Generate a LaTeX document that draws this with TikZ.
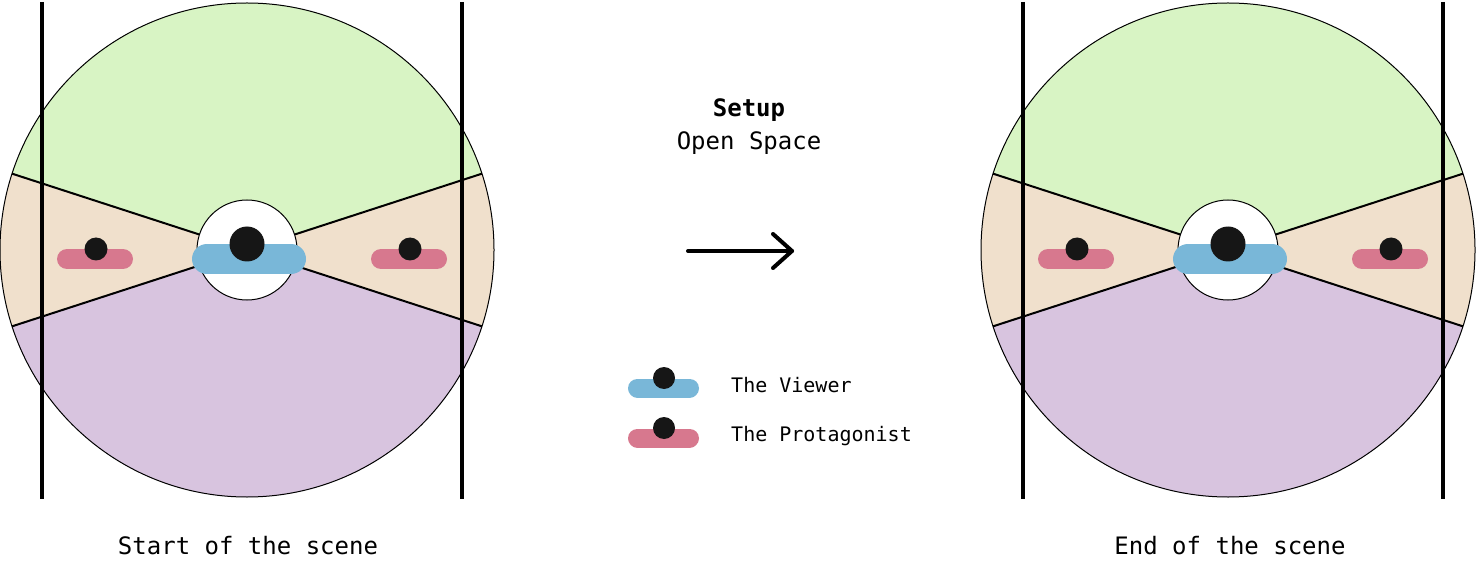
\documentclass[tikz,border=0pt]{standalone}
\usepackage{fontspec}
\setmainfont{DejaVu Sans Mono}
\usetikzlibrary{positioning}
\definecolor{topgreen}{HTML}{D8F4C4}
\definecolor{sidebeige}{HTML}{F0E0CC}
\definecolor{lowpurple}{HTML}{D8C4DF}
\definecolor{viewerblue}{HTML}{79B7D8}
\definecolor{protapink}{HTML}{D7788E}
\definecolor{dotblack}{HTML}{161616}
\begin{document}
\begin{tikzpicture}[x=1pt, y=1pt,
   bar/.style = {line cap=round},
   scenetext/.style = {inner sep=0pt, font=\fontsize{24}{28}\selectfont},
   legend/.style = {inner sep=0pt, anchor=base west, font=\fontsize{20}{24}\selectfont}]
   \useasboundingbox (0,0) rectangle (1477,-561);
   \foreach \cx in {247, 1228} {
   \begin{scope}[shift={(\cx,-250)}]
      \fill[topgreen] (0,0) -- (18:247) arc (18:162:247) -- cycle;
      \fill[sidebeige] (0,0) -- (162:247) arc (162:198:247) -- cycle;
      \fill[sidebeige] (0,0) -- (-18:247) arc (-18:18:247) -- cycle;
      \fill[lowpurple] (0,0) -- (198:247) arc (198:342:247) -- cycle;
      \draw[line width=2pt] (198:247) -- (18:247);
      \draw[line width=2pt] (162:247) -- (-18:247);
      \draw[line width=1pt] (0,0) circle (247);
      \draw[line width=4pt] (-205,248) -- (-205,-249);
      \draw[line width=4pt] (215,248) -- (215,-249);
      \draw[fill=white, line width=1pt] (0,0) circle (50);
      % viewer in the middle
      \draw[bar, viewerblue, line width=30pt] (-40,-9) -- (44,-9);
      \fill[dotblack] (0,6) circle (17.5);
      % the two protagonists
      \draw[bar, protapink, line width=20pt] (-180,-9) -- (-124,-9);
      \fill[dotblack] (-151,1) circle (11.5);
      \draw[bar, protapink, line width=20pt] (134,-9) -- (190,-9);
      \fill[dotblack] (163,1) circle (11.5);
   \end{scope}
   }
   \node[scenetext, anchor=base] (start) at (248,-554) {Start of the scene};
   \node[scenetext, anchor=base] (end) at (1230,-554) {End of the scene};
   \node[scenetext, anchor=base, font=\fontsize{24}{28}\selectfont\bfseries] (setup) at (749,-117) {Setup};
   \node[scenetext, below=33pt of setup.base, anchor=base] (space) {Open Space};
   % arrow between the scenes
   \coordinate (from) at (688,-251);
   \coordinate (to) at (792,-251);
   \draw[line width=4pt, line cap=round, line join=round] (from) -- (to);
   \draw[line width=4pt, line cap=round, line join=round] ([shift={(-19,17)}]to) -- (to) -- ([shift={(-19,-17)}]to);
   % legend
   \draw[bar, viewerblue, line width=19pt] (637.5,-388) -- (689.5,-388);
   \fill[dotblack] (664,-378) circle (11);
   \node[legend] (viewer) at (731,-392) {The Viewer};
   \draw[bar, protapink, line width=19pt] (637.5,-438) -- (689.5,-438);
   \fill[dotblack] (664,-428) circle (11);
   \node[legend] (prota) at (731,-441) {The Protagonist};
\end{tikzpicture}
\end{document}
